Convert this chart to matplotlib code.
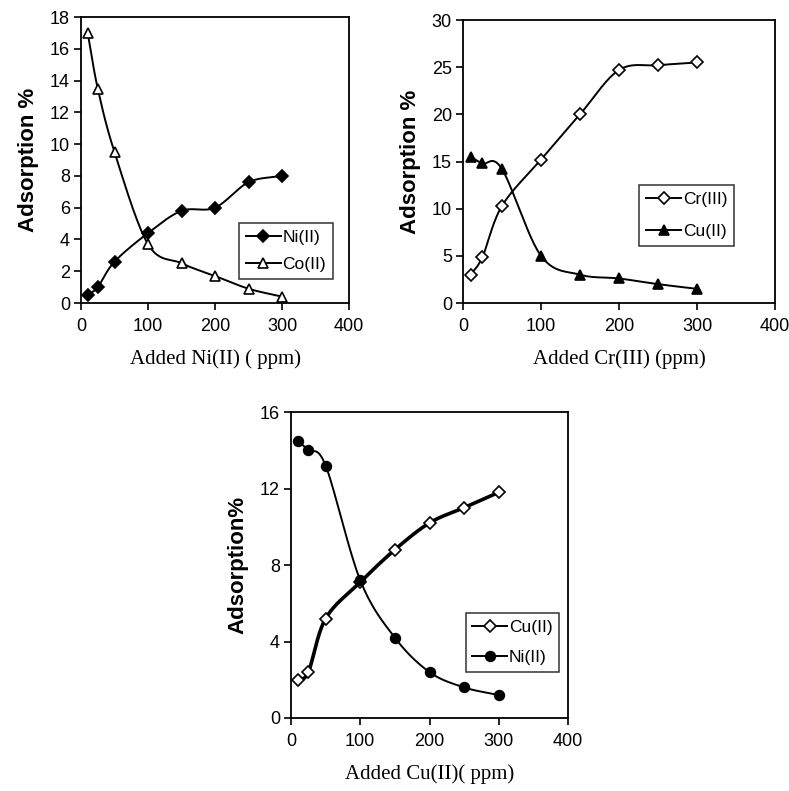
import numpy as np
import matplotlib
matplotlib.use("Agg")
import matplotlib.pyplot as plt

# DATA
added = [10, 25, 50, 100, 150, 200, 250, 300]

ni_a = [0.5, 1.0, 2.6, 4.4, 5.8, 6.0, 7.6, 8.0]
co_a = [17.0, 13.5, 9.5, 3.7, 2.5, 1.7, 0.9, 0.4]

cr_b = [3.0, 4.9, 10.3, 15.2, 20.0, 24.7, 25.2, 25.5]
cu_b = [15.5, 14.8, 14.2, 5.0, 3.0, 2.6, 2.0, 1.5]

cu_c = [2.0, 2.4, 5.2, 7.1, 8.8, 10.2, 11.0, 11.8]
ni_c = [14.5, 14.0, 13.2, 7.2, 4.2, 2.4, 1.6, 1.2]

W, H = 789, 791
plt.rcParams['font.family'] = ['Liberation Sans', 'DejaVu Sans']


def smooth(x, y, n=30):
    # excel-like smoothed line (catmull-rom through the points)
    x = np.asarray(x, float)
    y = np.asarray(y, float)
    px = np.concatenate([[2 * x[0] - x[1]], x, [2 * x[-1] - x[-2]]])
    py = np.concatenate([[2 * y[0] - y[1]], y, [2 * y[-1] - y[-2]]])
    xs, ys = [], []
    t = np.linspace(0, 1, n)
    for i in range(1, len(px) - 2):
        for p, out in ((px, xs), (py, ys)):
            p0, p1, p2, p3 = p[i - 1], p[i], p[i + 1], p[i + 2]
            out.extend(0.5 * (2 * p1 + (-p0 + p2) * t
                              + (2 * p0 - 5 * p1 + 4 * p2 - p3) * t ** 2
                              + (-p0 + 3 * p1 - 3 * p2 + p3) * t ** 3))
    return xs, ys


def make_axes(fig, l, r, t, b):
    return fig.add_axes([l / W, 1 - b / H, (r - l) / W, (b - t) / H])


def style(ax, ymax, ystep, ylabel, xlabel):
    ax.set_xlim(0, 400)
    ax.set_ylim(0, ymax)
    ax.set_xticks(range(0, 401, 100))
    ax.set_yticks(np.arange(0, ymax + 0.01, ystep))
    ax.tick_params(direction='out', length=5, width=1.2, labelsize=13,
                   top=False, right=False)
    ax.tick_params(axis='x', pad=6)
    ax.tick_params(axis='y', pad=3)
    for s in ax.spines.values():
        s.set_linewidth(1.3)
    ax.set_ylabel(ylabel, fontsize=16, fontweight='bold', labelpad=8)
    ax.set_xlabel(xlabel, fontsize=15, family=['Liberation Serif', 'DejaVu Serif'],
                  labelpad=10)


def series(ax, x, y, marker, filled, label, lw=1.4, ms=7.5):
    sx, sy = smooth(x, y)
    ax.plot(sx, sy, color='black', lw=lw, zorder=2)
    ax.plot(x, y, linestyle='none', marker=marker, ms=ms,
            mfc='black' if filled else 'white', mec='black', mew=1.2, zorder=3)
    # legend proxy
    ax.plot([], [], color='black', lw=1.4, marker=marker, ms=ms,
            mfc='black' if filled else 'white', mec='black', mew=1.2, label=label)


def add_legend(ax, loc, spacing):
    leg = ax.legend(loc='lower left', bbox_to_anchor=loc, frameon=True,
                    fancybox=False, edgecolor='black', fontsize=12.5,
                    handlelength=2.0, handletextpad=0.1, borderpad=0.4,
                    labelspacing=spacing, borderaxespad=0)
    leg.get_frame().set_linewidth(1.1)


fig = plt.figure(figsize=(W / 100, H / 100), dpi=100)

# top left
ax1 = make_axes(fig, 81, 349, 17, 303)
series(ax1, added, ni_a, 'D', True, 'Ni(II)', ms=6)
series(ax1, added, co_a, '^', False, 'Co(II)')
style(ax1, 18, 2, 'Adsorption %', 'Added Ni(II) ( ppm)')
add_legend(ax1, (0.59, 0.085), 0.65)

# top right
ax2 = make_axes(fig, 463, 775, 20, 303)
series(ax2, added, cr_b, 'D', False, 'Cr(III)', ms=6)
series(ax2, added, cu_b, '^', True, 'Cu(II)')
style(ax2, 30, 5, 'Adsorption %', 'Added Cr(III) (ppm)')
add_legend(ax2, (0.565, 0.2), 1.0)

# bottom
ax3 = make_axes(fig, 291, 568, 412, 718)
series(ax3, added, cu_c, 'D', False, 'Cu(II)', lw=2.6, ms=6)
series(ax3, added, ni_c, 'o', True, 'Ni(II)', ms=7)
style(ax3, 16, 4, 'Adsorption%', 'Added Cu(II)( ppm)')
add_legend(ax3, (0.63, 0.15), 0.85)

fig.savefig('out.png', dpi=100)
